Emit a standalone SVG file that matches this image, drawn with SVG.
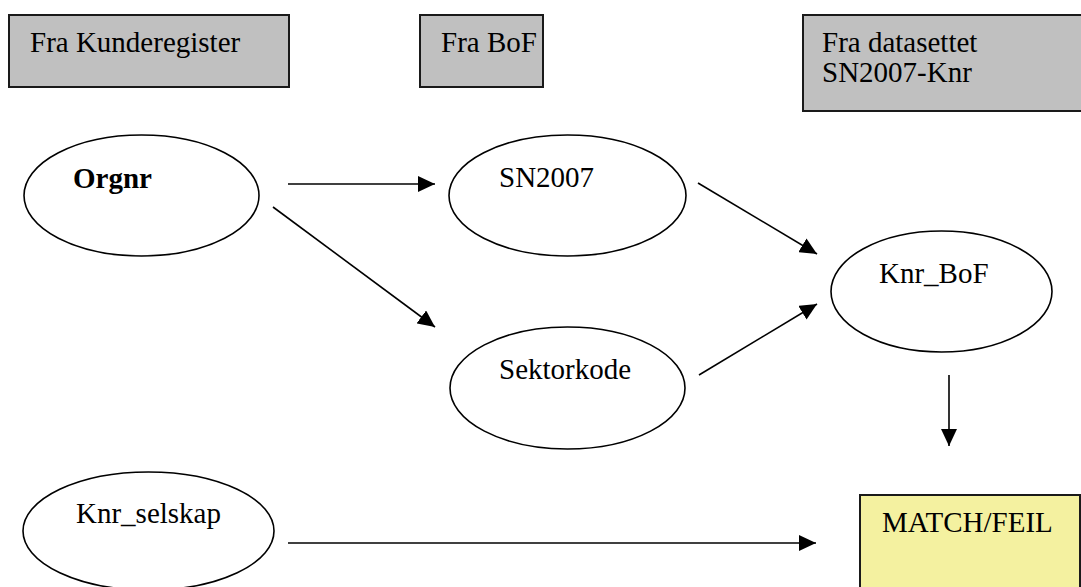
<svg xmlns="http://www.w3.org/2000/svg" width="1081" height="587" viewBox="0 0 1081 587">
<style>
.box{fill:#c0c0c0;stroke:#1a1a1a;stroke-width:2}
.match{fill:#f4f1a0;stroke:#1a1a1a;stroke-width:2}
.ell{fill:#ffffff;stroke:#000;stroke-width:1.6}
text{font-family:'Liberation Serif','Times New Roman','DejaVu Serif',serif;font-size:29px;fill:#000}
.b{font-weight:bold}
.c{stroke:#000;stroke-width:1.6;fill:none;marker-end:url(#ah)}
</style>
<defs>
<marker id="ah" markerUnits="userSpaceOnUse" markerWidth="18" markerHeight="16" refX="17" refY="8" orient="auto" viewBox="0 0 18 16">
<path d="M0,0 L17,8 L0,16 z" fill="#000"/>
</marker>
</defs>
<rect width="1081" height="587" fill="#ffffff"/>
<g id="hdr-kunderegister">
<rect class="box" x="9" y="15" width="280" height="72"/>
<text x="30" y="52" font-family="Liberation Serif, serif">Fra Kunderegister</text>
</g>
<g id="hdr-bof">
<rect class="box" x="420" y="15" width="123" height="72"/>
<text x="441" y="52" font-family="Liberation Serif, serif">Fra BoF</text>
</g>
<g id="hdr-datasett">
<rect class="box" x="803" y="15" width="290" height="96"/>
<text x="822" y="52" font-family="Liberation Serif, serif">Fra datasettet</text>
<text x="822" y="82" font-family="Liberation Serif, serif">SN2007-Knr</text>
</g>
<g id="orgnr">
<ellipse class="ell" cx="141.5" cy="195.5" rx="117.5" ry="60.5"/>
<text class="b" x="73" y="188" font-family="Liberation Serif, serif">Orgnr</text>
</g>
<g id="sn2007">
<ellipse class="ell" cx="567.5" cy="195.5" rx="118.5" ry="60.5"/>
<text x="499" y="187" font-family="Liberation Serif, serif">SN2007</text>
</g>
<g id="sektorkode">
<ellipse class="ell" cx="567.5" cy="388" rx="117.5" ry="61"/>
<text x="499" y="379" font-family="Liberation Serif, serif">Sektorkode</text>
</g>
<g id="knr-bof">
<ellipse class="ell" cx="941.5" cy="291.5" rx="110.5" ry="60.5"/>
<text x="879" y="283" font-family="Liberation Serif, serif">Knr_BoF</text>
</g>
<g id="knr-selskap">
<ellipse class="ell" cx="148.5" cy="531" rx="125.5" ry="59"/>
<text x="76" y="523" font-family="Liberation Serif, serif">Knr_selskap</text>
</g>
<g id="match-feil">
<rect class="match" x="860" y="495" width="220" height="100"/>
<text x="882" y="532" font-family="Liberation Serif, serif">MATCH/FEIL</text>
</g>
<g id="connectors">
<line class="c" x1="288" y1="184" x2="435" y2="184"/>
<line class="c" x1="273" y1="207" x2="435" y2="327"/>
<line class="c" x1="698" y1="183" x2="817" y2="254"/>
<line class="c" x1="699" y1="375" x2="817" y2="304"/>
<line class="c" x1="949" y1="375" x2="949" y2="446"/>
<line class="c" x1="288" y1="543" x2="816" y2="543"/>
</g>
</svg>
